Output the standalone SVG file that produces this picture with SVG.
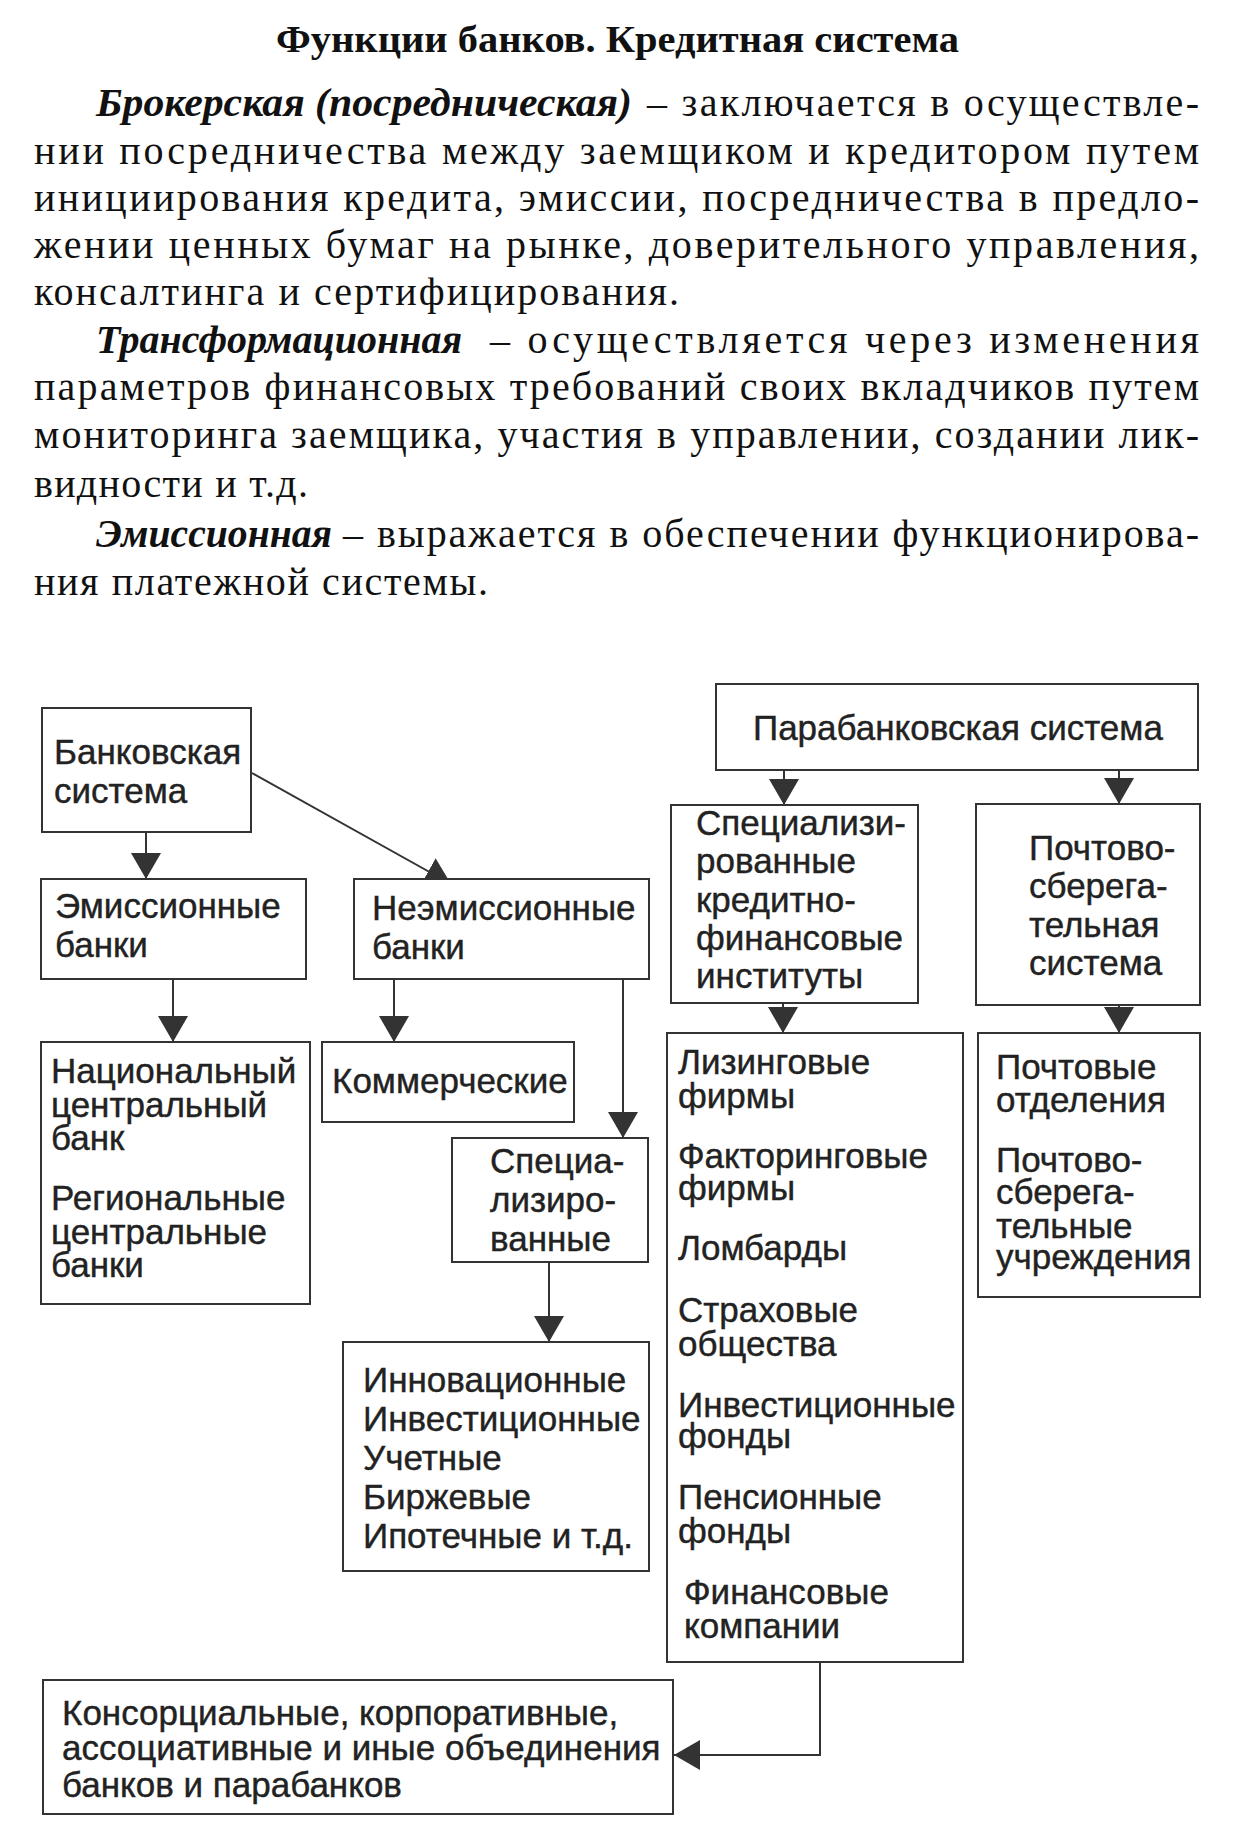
<svg xmlns="http://www.w3.org/2000/svg" width="1253" height="1825" viewBox="0 0 1253 1825">
<style>
.box{fill:#fff;stroke:#333;stroke-width:2}
.t{font-family:"Liberation Sans",Arial,sans-serif;font-size:35px;fill:#222;stroke:#222;stroke-width:0.4px}
.p{font-family:"Liberation Serif","Times New Roman",serif;font-size:40px;fill:#111}
.pi{font-style:italic;font-weight:bold}
.h{font-family:"Liberation Serif","Times New Roman",serif;font-size:38px;font-weight:bold;fill:#111}
.conn{stroke:#333;stroke-width:2;fill:none}
</style>
<defs>
<marker id="ah" markerUnits="userSpaceOnUse" markerWidth="26" markerHeight="30" refX="26" refY="15" orient="auto" viewBox="0 0 26 30">
<path d="M0,0 L26,15 L0,30 z" fill="#333"/>
</marker>
</defs>
<rect width="1253" height="1825" fill="#fff"/>
<g id="text-block">
<text class="h" x="276" y="52" textLength="683" lengthAdjust="spacingAndGlyphs">Функции банков. Кредитная система</text>
<text class="p pi" x="96" y="116" textLength="536" lengthAdjust="spacingAndGlyphs">Брокерская (посредническая)</text>
<text class="p" x="647" y="116" textLength="552" lengthAdjust="spacing">– заключается в осуществле-</text>
<text class="p" x="34" y="164" textLength="1165" lengthAdjust="spacing">нии посредничества между заемщиком и кредитором путем</text>
<text class="p" x="34" y="211" textLength="1165" lengthAdjust="spacing">инициирования кредита, эмиссии, посредничества в предло-</text>
<text class="p" x="34" y="258" textLength="1165" lengthAdjust="spacing">жении ценных бумаг на рынке, доверительного управления,</text>
<text class="p" x="34" y="305" textLength="645" lengthAdjust="spacing">консалтинга и сертифицирования.</text>
<text class="p pi" x="96" y="353" textLength="366" lengthAdjust="spacingAndGlyphs">Трансформационная</text>
<text class="p" x="490" y="353" textLength="709" lengthAdjust="spacing">– осуществляется через изменения</text>
<text class="p" x="34" y="400" textLength="1165" lengthAdjust="spacing">параметров финансовых требований своих вкладчиков путем</text>
<text class="p" x="34" y="448" textLength="1165" lengthAdjust="spacing">мониторинга заемщика, участия в управлении, создании лик-</text>
<text class="p" x="34" y="497" textLength="274" lengthAdjust="spacing">видности и т.д.</text>
<text class="p pi" x="96" y="547" textLength="236" lengthAdjust="spacingAndGlyphs">Эмиссионная</text>
<text class="p" x="343" y="547" textLength="856" lengthAdjust="spacing">– выражается в обеспечении функционирова-</text>
<text class="p" x="34" y="595" textLength="454" lengthAdjust="spacing">ния платежной системы.</text>
</g>
<g id="connectors">
<path class="conn" d="M146,832 V879" marker-end="url(#ah)"/>
<path class="conn" d="M252,773 L451,884" marker-end="url(#ah)"/>
<path class="conn" d="M173,979 V1042" marker-end="url(#ah)"/>
<path class="conn" d="M394,979 V1042" marker-end="url(#ah)"/>
<path class="conn" d="M623,979 V1138" marker-end="url(#ah)"/>
<path class="conn" d="M549,1262 V1342" marker-end="url(#ah)"/>
<path class="conn" d="M784,770 V805" marker-end="url(#ah)"/>
<path class="conn" d="M1119,770 V804" marker-end="url(#ah)"/>
<path class="conn" d="M783,1003 V1033" marker-end="url(#ah)"/>
<path class="conn" d="M1119,1005 V1033" marker-end="url(#ah)"/>
<path class="conn" d="M820,1662 V1755 H674" marker-end="url(#ah)"/>
</g>
<g id="n-bank">
<rect class="box" x="42" y="708" width="209" height="124"/>
<text class="t"><tspan x="54" y="764">Банковская</tspan><tspan x="54" y="803">система</tspan></text>
</g>
<g id="n-emis">
<rect class="box" x="41" y="879" width="265" height="100"/>
<text class="t"><tspan x="55" y="918">Эмиссионные</tspan><tspan x="55" y="957">банки</tspan></text>
</g>
<g id="n-nonemis">
<rect class="box" x="354" y="879" width="295" height="100"/>
<text class="t"><tspan x="372" y="920">Неэмиссионные</tspan><tspan x="372" y="959">банки</tspan></text>
</g>
<g id="n-central">
<rect class="box" x="41" y="1042" width="269" height="262"/>
<text class="t"><tspan x="51" y="1083">Национальный</tspan><tspan x="51" y="1117">центральный</tspan><tspan x="51" y="1150">банк</tspan><tspan x="51" y="1210">Региональные</tspan><tspan x="51" y="1244">центральные</tspan><tspan x="51" y="1277">банки</tspan></text>
</g>
<g id="n-comm">
<rect class="box" x="322" y="1042" width="252" height="80"/>
<text class="t" x="332" y="1093">Коммерческие</text>
</g>
<g id="n-spec">
<rect class="box" x="452" y="1138" width="196" height="124"/>
<text class="t"><tspan x="490" y="1173">Специа-</tspan><tspan x="490" y="1212">лизиро-</tspan><tspan x="490" y="1251">ванные</tspan></text>
</g>
<g id="n-types">
<rect class="box" x="343" y="1342" width="306" height="229"/>
<text class="t"><tspan x="363" y="1392">Инновационные</tspan><tspan x="363" y="1431">Инвестиционные</tspan><tspan x="363" y="1470">Учетные</tspan><tspan x="363" y="1509">Биржевые</tspan><tspan x="363" y="1548">Ипотечные и т.д.</tspan></text>
</g>
<g id="n-parabank">
<rect class="box" x="716" y="684" width="482" height="86"/>
<text class="t" x="753" y="740">Парабанковская система</text>
</g>
<g id="n-skfi">
<rect class="box" x="671" y="805" width="247" height="198"/>
<text class="t"><tspan x="696" y="835">Специализи-</tspan><tspan x="696" y="873">рованные</tspan><tspan x="696" y="912">кредитно-</tspan><tspan x="696" y="950">финансовые</tspan><tspan x="696" y="988">институты</tspan></text>
</g>
<g id="n-postsys">
<rect class="box" x="976" y="804" width="224" height="201"/>
<text class="t"><tspan x="1029" y="860">Почтово-</tspan><tspan x="1029" y="898">сберега-</tspan><tspan x="1029" y="937">тельная</tspan><tspan x="1029" y="975">система</tspan></text>
</g>
<g id="n-list">
<rect class="box" x="667" y="1033" width="296" height="629"/>
<text class="t"><tspan x="678" y="1074">Лизинговые</tspan><tspan x="678" y="1108">фирмы</tspan><tspan x="678" y="1168">Факторинговые</tspan><tspan x="678" y="1200">фирмы</tspan><tspan x="678" y="1260">Ломбарды</tspan><tspan x="678" y="1322">Страховые</tspan><tspan x="678" y="1356">общества</tspan><tspan x="678" y="1417">Инвестиционные</tspan><tspan x="678" y="1448">фонды</tspan><tspan x="678" y="1509">Пенсионные</tspan><tspan x="678" y="1543">фонды</tspan><tspan x="684" y="1604">Финансовые</tspan><tspan x="684" y="1638">компании</tspan></text>
</g>
<g id="n-postal">
<rect class="box" x="978" y="1033" width="222" height="264"/>
<text class="t"><tspan x="996" y="1079">Почтовые</tspan><tspan x="996" y="1112">отделения</tspan><tspan x="996" y="1172">Почтово-</tspan><tspan x="996" y="1204">сберега-</tspan><tspan x="996" y="1238">тельные</tspan><tspan x="996" y="1269">учреждения</tspan></text>
</g>
<g id="n-assoc">
<rect class="box" x="43" y="1680" width="630" height="134"/>
<text class="t"><tspan x="62" y="1725">Консорциальные, корпоративные,</tspan><tspan x="62" y="1760">ассоциативные и иные объединения</tspan><tspan x="62" y="1797">банков и парабанков</tspan></text>
</g>
</svg>
